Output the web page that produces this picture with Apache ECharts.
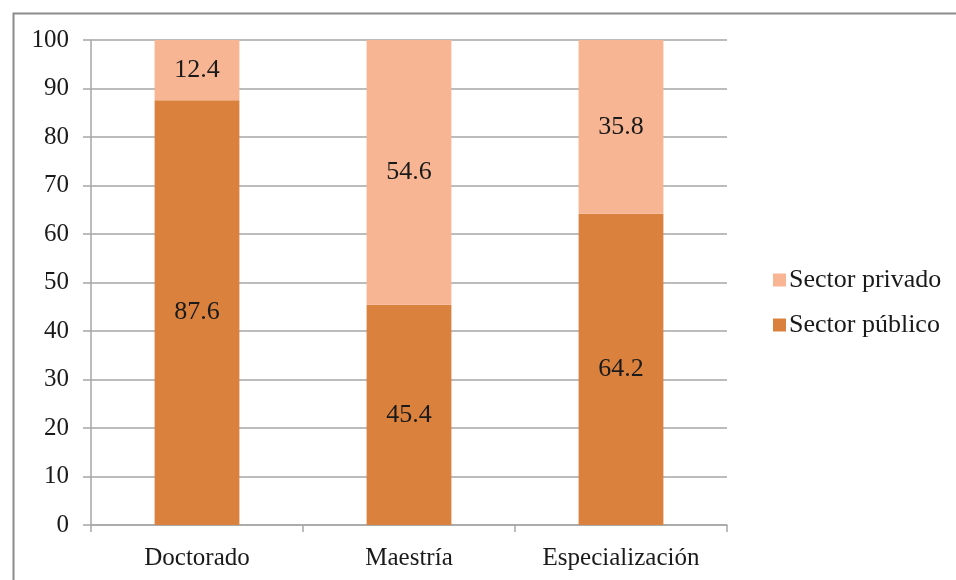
<!DOCTYPE html>
<html>
<head>
<meta charset="utf-8">
<script src="https://cdn.jsdelivr.net/npm/echarts@6/dist/echarts.min.js"></script>
<style>
  html, body { margin: 0; padding: 0; background: #fff; }
  #chart { width: 956px; height: 580px; }
</style>
</head>
<body>
<div id="chart"></div>
<script>
// valores (porcentaje por nivel)
const categories = ['Doctorado', 'Maestría', 'Especialización']
const publico = [87.6, 45.4, 64.2]
const privado = [12.4, 54.6, 35.8]

const FONT = '"Liberation Serif", "Times New Roman", serif'
const C = { pub: '#DA823D', priv: '#F8B593', grid: '#A6A6A6', text: '#1a1a1a' }

const chart = echarts.init(document.getElementById('chart'))
const label = {
  show: true, position: 'inside', color: C.text,
  fontFamily: FONT, fontSize: 26,
  formatter: p => p.value.toFixed(1),
}

chart.setOption({
  backgroundColor: '#fff',
  animation: false,
  textStyle: { fontFamily: FONT },
  // marco exterior del gráfico (sólo se ven los bordes izquierdo y superior)
  graphic: [{
    type: 'rect', left: 11, top: 11, z: -1, silent: true,
    shape: { width: 1000, height: 1000 },
    style: { fill: 'none', stroke: '#8c8c8c', lineWidth: 2 },
  }],
  grid: { left: 91, right: 229, top: 40, bottom: 55 },
  legend: {
    orient: 'vertical', left: 768, top: 262, itemGap: 19,
    itemWidth: 13, itemHeight: 13, icon: 'rect', itemStyle: { borderWidth: 0 },
    data: ['Sector privado', 'Sector público'],
    textStyle: { fontFamily: FONT, fontSize: 26, color: C.text, padding: [0, 0, 0, -2] },
  },
  xAxis: {
    type: 'category', data: categories,
    axisLine: { lineStyle: { color: C.grid, width: 1.5 } },
    axisTick: { show: true, length: 7, lineStyle: { color: C.grid, width: 1.5 } },
    axisLabel: { color: C.text, fontFamily: FONT, fontSize: 25, margin: 21 },
  },
  yAxis: {
    type: 'value', min: 0, max: 100, interval: 10,
    axisLine: { show: true, lineStyle: { color: C.grid, width: 1.5 } },
    axisTick: { show: true, length: 8, lineStyle: { color: C.grid, width: 1.5 } },
    axisLabel: { color: C.text, fontFamily: FONT, fontSize: 25, margin: 22 },
    splitLine: { lineStyle: { color: C.grid, width: 1.5 } },
  },
  series: [
    { name: 'Sector público', type: 'bar', stack: 'total', barWidth: '40%',
      data: publico, itemStyle: { color: C.pub }, label },
    { name: 'Sector privado', type: 'bar', stack: 'total', barWidth: '40%',
      data: privado, itemStyle: { color: C.priv }, label },
  ],
})
</script>
</body>
</html>
